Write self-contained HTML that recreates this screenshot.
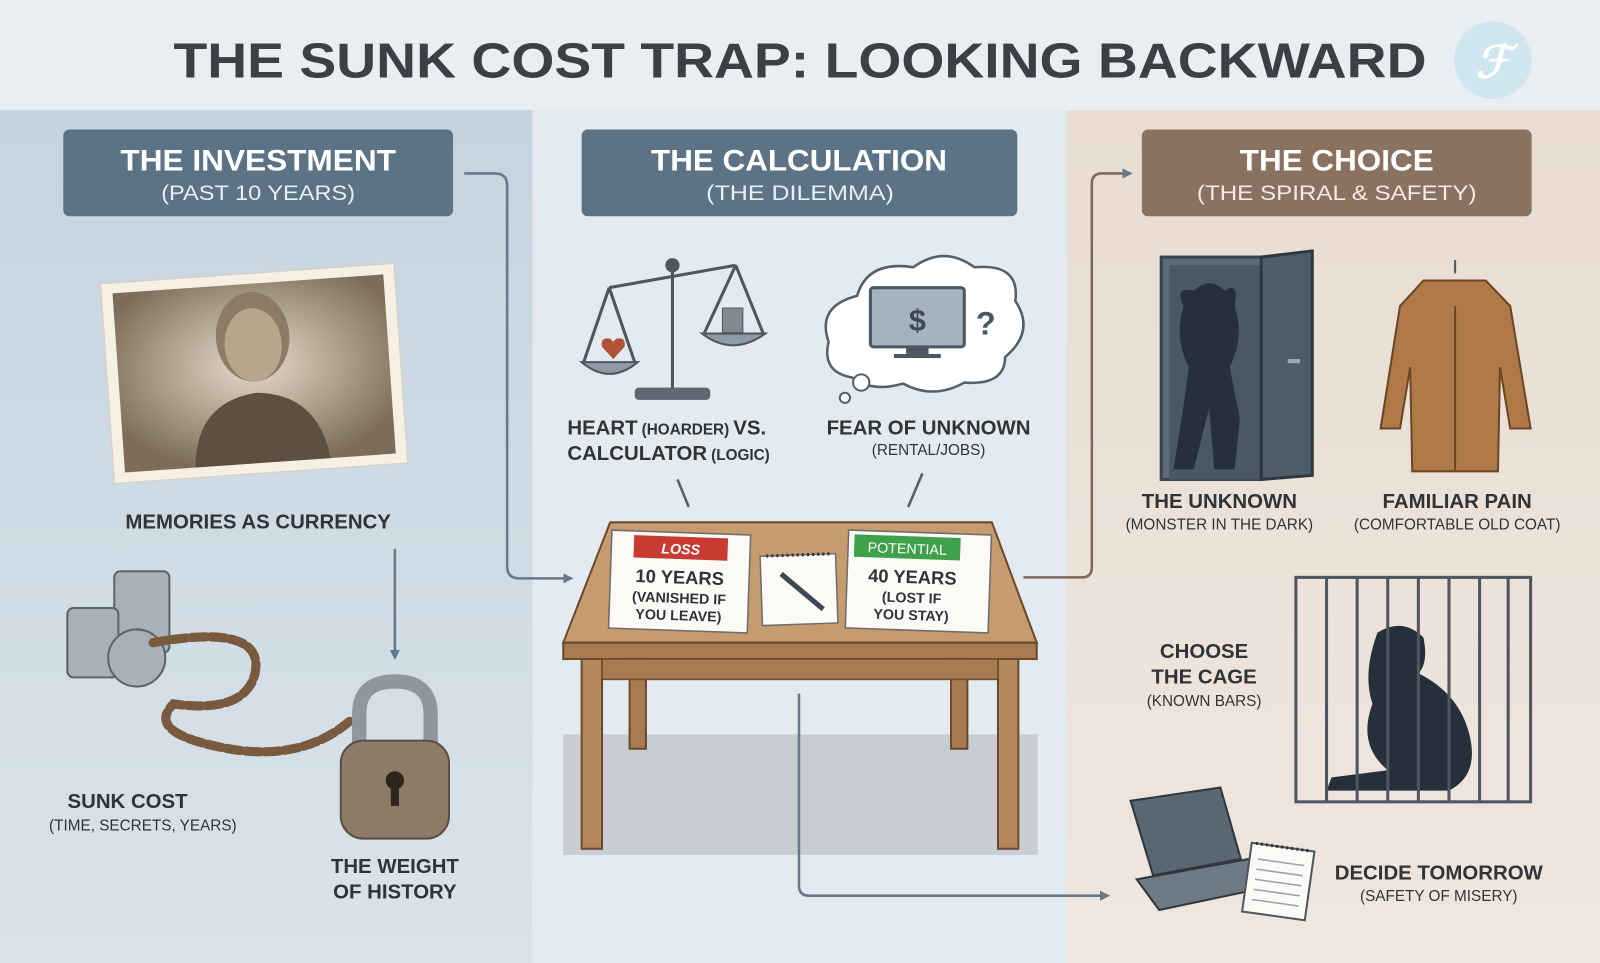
<!DOCTYPE html>
<html><head><meta charset="utf-8"><style>
html,body{margin:0;padding:0;width:1600px;height:963px;overflow:hidden;background:#e9eef2}
svg{display:block}
text{font-family:"Liberation Sans",sans-serif;font-weight:bold}
</style></head><body>
<svg width="1600" height="963" viewBox="0 0 1568 944" preserveAspectRatio="none" xmlns="http://www.w3.org/2000/svg">
<defs>
<linearGradient id="lg" x1="0" y1="0" x2="0" y2="1"><stop offset="0" stop-color="#c6d4df"/><stop offset="1" stop-color="#d9e3ea"/></linearGradient>
<linearGradient id="rg" x1="0" y1="0" x2="0" y2="1"><stop offset="0" stop-color="#e9ddd2"/><stop offset="1" stop-color="#efe6de"/></linearGradient>
<radialGradient id="ph" cx="0.5" cy="0.45" r="0.6"><stop offset="0" stop-color="#e6dccb"/><stop offset="1" stop-color="#7d6d58"/></radialGradient>
<marker id="ar" markerWidth="10" markerHeight="10" refX="8" refY="5" orient="auto" markerUnits="userSpaceOnUse"><path d="M0,0 L10,5 L0,10 z" fill="#66798a"/></marker>
</defs>
<rect width="1568" height="944" fill="#e9eef2"/>
<rect x="0" y="0" width="1568" height="108" fill="#e8eef2"/>
<rect x="0" y="108" width="522" height="836" fill="url(#lg)"/>
<rect x="522" y="108" width="523" height="836" fill="#e4ebf0"/>
<rect x="1045" y="108" width="523" height="836" fill="url(#rg)"/>
<text x="170" y="76" font-size="48" fill="#3b4046" textLength="1228" lengthAdjust="spacingAndGlyphs">THE SUNK COST TRAP: LOOKING BACKWARD</text>
<circle cx="1463" cy="59" r="38" fill="#cfe5f0"/>
<text x="1463" y="76" font-size="44" fill="#ffffff" text-anchor="middle" font-style="italic">ℱ</text>

<rect x="62" y="127" width="382" height="85" rx="6" fill="#5c7386"/>
<text x="118" y="167" font-size="29" fill="#fff" textLength="270" lengthAdjust="spacingAndGlyphs">THE INVESTMENT</text>
<text x="158" y="196" font-size="21" fill="#e8eef2" textLength="190" lengthAdjust="spacingAndGlyphs" style="font-weight:normal">(PAST 10 YEARS)</text>
<rect x="570" y="127" width="427" height="85" rx="6" fill="#5c7386"/>
<text x="638" y="167" font-size="29" fill="#fff" textLength="290" lengthAdjust="spacingAndGlyphs">THE CALCULATION</text>
<text x="692" y="196" font-size="21" fill="#e8eef2" textLength="184" lengthAdjust="spacingAndGlyphs" style="font-weight:normal">(THE DILEMMA)</text>
<rect x="1119" y="127" width="382" height="85" rx="6" fill="#8a7261"/>
<text x="1215" y="167" font-size="29" fill="#fff" textLength="190" lengthAdjust="spacingAndGlyphs">THE CHOICE</text>
<text x="1173" y="196" font-size="21" fill="#f3ece6" textLength="274" lengthAdjust="spacingAndGlyphs" style="font-weight:normal">(THE SPIRAL &amp; SAFETY)</text>

<g transform="rotate(-4 250 365)">
<rect x="105" y="268" width="288" height="196" fill="#f5efe4" stroke="#d8cfbf"/>
<rect x="116" y="278" width="266" height="176" fill="url(#ph)"/>
<ellipse cx="250" cy="330" rx="36" ry="44" fill="#8c7c66"/>
<ellipse cx="250" cy="338" rx="28" ry="36" fill="#b7a68c"/>
<path d="M185 454 Q190 390 250 385 Q310 390 318 454 z" fill="#5d5040"/>
</g>
<text x="253" y="518" font-size="20" fill="#2f3438" text-anchor="middle">MEMORIES AS CURRENCY</text>
<line x1="387" y1="538" x2="387" y2="645" stroke="#66798a" stroke-width="2.5" marker-end="url(#ar)"/>

<g fill="#a9b0b7" stroke="#5b636b" stroke-width="2">
<rect x="112" y="560" width="54" height="80" rx="6"/>
<rect x="66" y="596" width="50" height="68" rx="6"/>
<ellipse cx="134" cy="645" rx="28" ry="28"/>
</g>
<path d="M150 630 Q260 610 250 660 Q240 700 170 690 Q140 720 230 735 Q300 745 345 705" fill="none" stroke="#7a5a3e" stroke-width="9" stroke-dasharray="14 5" stroke-linecap="round"/>
<path d="M352 730 V700 Q352 668 387 668 Q422 668 422 700 V730" fill="none" stroke="#8f979e" stroke-width="14"/>
<rect x="334" y="726" width="106" height="96" rx="22" fill="#8e7b67" stroke="#5d4f40" stroke-width="2"/>
<circle cx="387" cy="765" r="9" fill="#2d261f"/><rect x="383" y="768" width="8" height="22" fill="#2d261f"/>
<text x="125" y="792" font-size="20" fill="#2f3438" text-anchor="middle">SUNK COST</text>
<text x="140" y="814" font-size="15" fill="#2f3438" text-anchor="middle" style="font-weight:normal">(TIME, SECRETS, YEARS)</text>
<text x="387" y="856" font-size="20" fill="#2f3438" text-anchor="middle">THE WEIGHT</text>
<text x="387" y="881" font-size="20" fill="#2f3438" text-anchor="middle">OF HISTORY</text>

<path d="M455 170 H485 Q497 170 497 182 V555 Q497 567 509 567 H560" fill="none" stroke="#66798a" stroke-width="2.5" marker-end="url(#ar)"/>

<g stroke="#4d5761" stroke-width="3" fill="none">
<line x1="659" y1="262" x2="659" y2="382"/>
<line x1="597" y1="282" x2="721" y2="260"/>
<path d="M597 282 L572 355 M597 282 L622 355 M721 260 L690 327 M721 260 L748 327"/>
</g>
<circle cx="659" cy="260" r="7" fill="#4d5761"/>
<path d="M570 355 Q597 378 625 355 z" fill="#8e9aa4" stroke="#4d5761" stroke-width="2"/>
<path d="M688 327 Q718 350 750 327 z" fill="#8e9aa4" stroke="#4d5761" stroke-width="2"/>
<path d="M601 352 L590 340 Q588 330 598 332 L601 335 L604 332 Q614 330 612 340 z" fill="#b0533a"/>
<rect x="708" y="302" width="20" height="24" fill="#7f8a93" stroke="#4d5761"/>
<rect x="622" y="380" width="74" height="12" rx="4" fill="#5d6873"/>
<text y="426" font-size="20" fill="#2f3438"><tspan x="556">HEART</tspan><tspan font-size="15" dx="4">(HOARDER)</tspan><tspan dx="4">VS.</tspan></text>
<text x="556" y="451" font-size="20" fill="#2f3438">CALCULATOR<tspan font-size="15" dx="4">(LOGIC)</tspan></text>

<path d="M835 370 Q805 365 812 335 Q800 300 840 290 Q850 255 895 262 Q925 240 955 262 Q1000 258 995 295 Q1015 325 985 350 Q985 378 945 375 Q915 392 885 376 Q855 385 835 370 z" fill="#fff" stroke="#54606b" stroke-width="2.5"/>
<circle cx="844" cy="375" r="8" fill="#fff" stroke="#54606b" stroke-width="2"/>
<circle cx="828" cy="390" r="5" fill="#fff" stroke="#54606b" stroke-width="2"/>
<rect x="853" y="282" width="92" height="58" rx="3" fill="#a6b3bf" stroke="#4d5761" stroke-width="3"/>
<text x="899" y="324" font-size="30" fill="#3f4a55" text-anchor="middle">$</text>
<rect x="888" y="340" width="22" height="8" fill="#4d5761"/><rect x="876" y="347" width="46" height="4" fill="#4d5761"/>
<text x="966" y="328" font-size="32" fill="#4d5761" text-anchor="middle">?</text>
<text x="910" y="426" font-size="20" fill="#2f3438" text-anchor="middle">FEAR OF UNKNOWN</text>
<text x="910" y="446" font-size="15" fill="#2f3438" text-anchor="middle" style="font-weight:normal">(RENTAL/JOBS)</text>
<line x1="664" y1="470" x2="675" y2="497" stroke="#54606b" stroke-width="2.5"/>
<line x1="904" y1="464" x2="890" y2="497" stroke="#54606b" stroke-width="2.5"/>

<rect x="552" y="720" width="465" height="118" fill="#c7cdd2"/>
<polygon points="598,512 972,512 1016,630 552,630" fill="#c69b6e" stroke="#6b4b30" stroke-width="2"/>
<rect x="552" y="630" width="464" height="16" fill="#a87b51" stroke="#6b4b30" stroke-width="2"/>
<rect x="570" y="646" width="20" height="186" fill="#b4875b" stroke="#6b4b30" stroke-width="2"/>
<rect x="978" y="646" width="20" height="186" fill="#b4875b" stroke="#6b4b30" stroke-width="2"/>
<rect x="617" y="646" width="16" height="88" fill="#a87b51" stroke="#6b4b30" stroke-width="2"/>
<rect x="932" y="646" width="16" height="88" fill="#a87b51" stroke="#6b4b30" stroke-width="2"/>
<rect x="590" y="646" width="388" height="20" fill="#a87b51" stroke="#6b4b30" stroke-width="1.5"/>
<g transform="rotate(2 664 570)">
<rect x="598" y="522" width="136" height="96" fill="#fbfaf7" stroke="#6d6d6d" stroke-width="1.5"/>
<rect x="620" y="526" width="92" height="22" fill="#c93a33"/>
<text x="666" y="543" font-size="14" fill="#fff" text-anchor="middle" font-style="italic">LOSS</text>
<text x="666" y="572" font-size="18" fill="#2f3438" text-anchor="middle">10 YEARS</text>
<text x="666" y="591" font-size="14" fill="#2f3438" text-anchor="middle">(VANISHED IF</text>
<text x="666" y="608" font-size="14" fill="#2f3438" text-anchor="middle">YOU LEAVE)</text>
</g>
<g transform="rotate(-2 782 577)">
<rect x="746" y="544" width="74" height="68" fill="#fbfaf7" stroke="#6d6d6d" stroke-width="1.5"/>
<line x1="752" y1="544" x2="814" y2="544" stroke="#333" stroke-width="3" stroke-dasharray="2 3"/>
<line x1="766" y1="562" x2="806" y2="598" stroke="#3f4850" stroke-width="5"/>
</g>
<g transform="rotate(2 900 570)">
<rect x="830" y="522" width="140" height="96" fill="#fbfaf7" stroke="#6d6d6d" stroke-width="1.5"/>
<rect x="836" y="526" width="104" height="22" fill="#3fa14a"/>
<text x="888" y="543" font-size="14" fill="#fff" text-anchor="middle" style="font-weight:normal">POTENTIAL</text>
<text x="894" y="572" font-size="18" fill="#2f3438" text-anchor="middle">40 YEARS</text>
<text x="894" y="591" font-size="14" fill="#2f3438" text-anchor="middle">(LOST IF</text>
<text x="894" y="608" font-size="14" fill="#2f3438" text-anchor="middle">YOU STAY)</text>
</g>

<path d="M1003 566 H1060 Q1070 566 1070 556 V180 Q1070 170 1080 170 H1108" fill="none" stroke="#7b6b5e" stroke-width="2.5" marker-end="url(#ar)"/>
<path d="M783 680 V868 Q783 878 793 878 H1086" fill="none" stroke="#66798a" stroke-width="2.5" marker-end="url(#ar)"/>

<rect x="1138" y="252" width="98" height="218" fill="#5b6b77" stroke="#3a444d" stroke-width="3"/>
<path d="M1146 260 H1236 V470 H1146 z" fill="#4a5863"/>
<path d="M1160 300 Q1150 280 1170 285 Q1185 270 1200 285 Q1215 275 1210 300 Q1220 330 1205 360 L1215 410 L1210 460 L1190 460 L1185 400 L1170 460 L1150 460 Q1160 400 1165 360 Q1150 330 1160 300 z" fill="#25303a"/>
<path d="M1236 252 L1286 246 V466 L1236 470 z" fill="#4f5d68" stroke="#2f3840" stroke-width="3"/>
<rect x="1262" y="352" width="12" height="4" fill="#a0a8b0"/>
<text x="1195" y="498" font-size="20" fill="#2f3438" text-anchor="middle">THE UNKNOWN</text>
<text x="1195" y="519" font-size="15" fill="#2f3438" text-anchor="middle" style="font-weight:normal">(MONSTER IN THE DARK)</text>
<path d="M1426 255 Q1426 262 1426 268" stroke="#4d5761" stroke-width="2" fill="none"/>
<path d="M1395 275 L1456 275 L1480 300 L1500 420 L1480 420 L1470 360 L1468 462 L1384 462 L1382 360 L1372 420 L1353 420 L1372 300 z" fill="#b07a48" stroke="#6b4628" stroke-width="2"/>
<line x1="1426" y1="300" x2="1426" y2="462" stroke="#6b4628" stroke-width="2"/>
<text x="1428" y="498" font-size="20" fill="#2f3438" text-anchor="middle">FAMILIAR PAIN</text>
<text x="1428" y="519" font-size="15" fill="#2f3438" text-anchor="middle" style="font-weight:normal">(COMFORTABLE OLD COAT)</text>
<rect x="1270" y="566" width="230" height="220" fill="none" stroke="#4d5761" stroke-width="3"/>
<path d="M1350 620 Q1375 605 1395 625 Q1400 650 1390 660 Q1430 680 1440 720 Q1450 760 1420 775 L1300 775 L1305 762 L1360 755 Q1330 730 1345 690 Q1335 660 1350 620 z" fill="#25303a"/>
<g stroke="#4d5761" stroke-width="3">
<line x1="1300" y1="566" x2="1300" y2="786"/><line x1="1330" y1="566" x2="1330" y2="786"/><line x1="1360" y1="566" x2="1360" y2="786"/><line x1="1390" y1="566" x2="1390" y2="786"/><line x1="1420" y1="566" x2="1420" y2="786"/><line x1="1450" y1="566" x2="1450" y2="786"/><line x1="1478" y1="566" x2="1478" y2="786"/>
</g>
<text x="1180" y="645" font-size="20" fill="#2f3438" text-anchor="middle">CHOOSE</text>
<text x="1180" y="670" font-size="20" fill="#2f3438" text-anchor="middle">THE CAGE</text>
<text x="1180" y="692" font-size="15" fill="#2f3438" text-anchor="middle" style="font-weight:normal">(KNOWN BARS)</text>
<polygon points="1108,785 1196,772 1216,842 1130,858" fill="#5a6670" stroke="#2f3840" stroke-width="2"/>
<polygon points="1114,862 1224,842 1250,868 1136,892" fill="#6e7a84" stroke="#2f3840" stroke-width="2"/>
<g transform="rotate(8 1252 862)">
<rect x="1222" y="830" width="62" height="68" fill="#fbfaf7" stroke="#4d5761" stroke-width="2"/>
<line x1="1226" y1="830" x2="1280" y2="830" stroke="#333" stroke-width="3" stroke-dasharray="2 3"/>
<g stroke="#9aa3ab" stroke-width="1.5"><line x1="1230" y1="845" x2="1276" y2="845"/><line x1="1230" y1="855" x2="1276" y2="855"/><line x1="1230" y1="865" x2="1276" y2="865"/><line x1="1230" y1="875" x2="1276" y2="875"/><line x1="1230" y1="885" x2="1276" y2="885"/></g>
</g>
<text x="1410" y="862" font-size="20" fill="#2f3438" text-anchor="middle">DECIDE TOMORROW</text>
<text x="1410" y="883" font-size="15" fill="#2f3438" text-anchor="middle" style="font-weight:normal">(SAFETY OF MISERY)</text>
</svg>
</body></html>
